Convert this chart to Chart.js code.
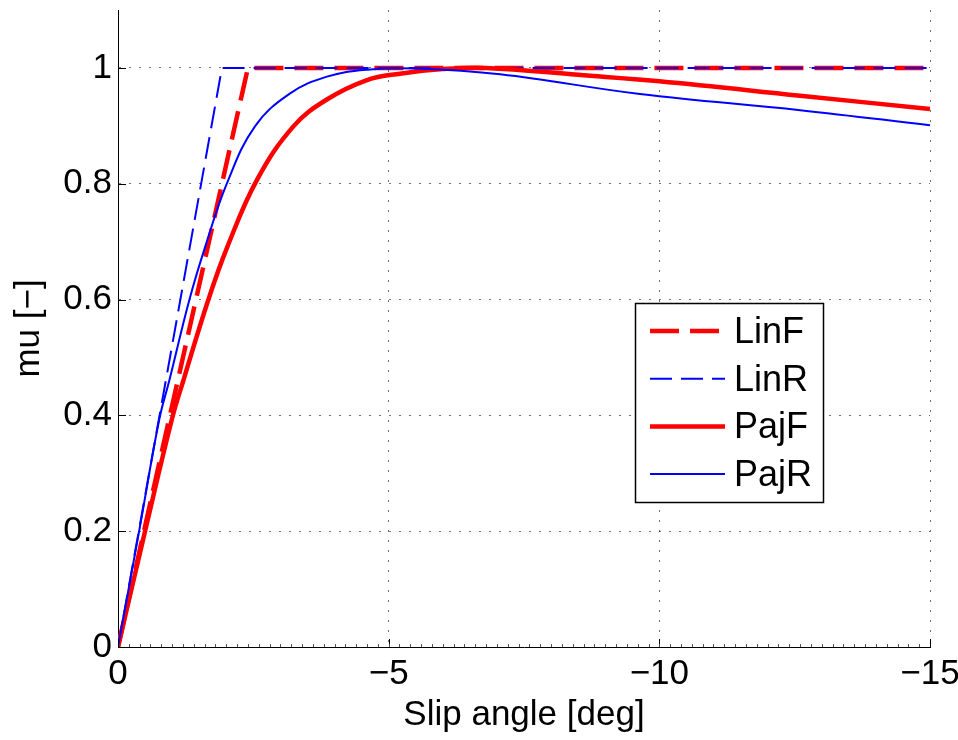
<!DOCTYPE html>
<html>
<head>
<meta charset="utf-8">
<script src="https://cdn.jsdelivr.net/npm/chart.js@4.4.0/dist/chart.umd.min.js"></script>
<style>
    html, body { margin: 0; padding: 0; background: #fff; }
    #wrap { width: 958px; height: 740px; }
</style>
</head>
<body>
<div id="wrap"><canvas id="muChart" width="958" height="740"></canvas></div>
<script>
// --- Data (slip angle in deg, mu in -) ---
const seriesNames = ['LinF', 'LinR', 'PajF', 'PajR'];

const linFX = [0, -2.4, -15];
const linFY = [0, 1, 1];

const linRX = [0, -1.92, -15];
const linRY = [0, 1, 1];

const pajFX = [0, -0.5, -1.0, -1.21, -1.67, -2.02, -2.57, -3.24, -3.85, -4.6, -5.21, -6.0, -6.8, -8.5, -10, -12.6, -15];
const pajFY = [0, 0.2, 0.395, 0.461, 0.6, 0.691, 0.807, 0.899, 0.945, 0.979, 0.99, 0.998, 1.0, 0.988, 0.977, 0.952, 0.929];

const pajRX = [0, -0.4, -0.76, -0.95, -1.32, -1.61, -2.01, -2.53, -3.18, -3.86, -4.6, -5.5, -7.06, -9.64, -12.6, -15];
const pajRY = [0, 0.205, 0.392, 0.461, 0.6, 0.691, 0.8, 0.899, 0.956, 0.985, 0.997, 0.999, 0.989, 0.955, 0.927, 0.901];

const xTicks = [0, -5, -10, -15];
const yTicks = [0, 0.2, 0.4, 0.6, 0.8, 1];

const FONT = '"Liberation Sans", Arial, Helvetica, sans-serif';
const RED = '#ff0000';
const BLUE = '#0000ff';

const toPoints = (xs, ys) => xs.map((x, i) => ({ x: x, y: ys[i] }));
const fmtX = (v) => v < 0 ? '\u2212' + Math.abs(v) : String(v);

// inward tick marks like the original plot
const inwardTicks = {
    id: 'inwardTicks',
    afterDatasetsDraw(chart) {
        const ctx = chart.ctx;
        const xs = chart.scales.x;
        const ys = chart.scales.y;
        const area = chart.chartArea;
        ctx.save();
        ctx.strokeStyle = '#000';
        ctx.lineWidth = 1;
        ctx.beginPath();
        xTicks.forEach(v => {
            const px = Math.round(xs.getPixelForValue(v)) + 0.5;
            ctx.moveTo(px, area.bottom);
            ctx.lineTo(px, area.bottom - 8);
        });
        yTicks.forEach(v => {
            const py = Math.round(ys.getPixelForValue(v)) + 0.5;
            ctx.moveTo(area.left, py);
            ctx.lineTo(area.left + 8, py);
        });
        ctx.stroke();
        // minor ticks on the x axis
        ctx.strokeStyle = '#555';
        ctx.beginPath();
        for (let k = 1; k < 75; k++) {
            const px = Math.round(xs.getPixelForValue(-k * 0.2)) + 0.5;
            ctx.moveTo(px, area.bottom);
            ctx.lineTo(px, area.bottom - 3);
        }
        ctx.stroke();
        ctx.restore();
    }
};

// boxed legend inside the plot
const boxLegend = {
    id: 'boxLegend',
    afterDraw(chart) {
        const ctx = chart.ctx;
        const area = chart.chartArea;
        const left = area.right - 295;
        const top = 303;
        const w = 188, h = 199;
        ctx.save();
        ctx.fillStyle = '#fff';
        ctx.fillRect(left, top, w, h);
        ctx.strokeStyle = '#000';
        ctx.lineWidth = 1.5;
        ctx.setLineDash([]);
        ctx.strokeRect(left + 0.5, top + 0.5, w, h);
        ctx.font = '36px ' + FONT;
        ctx.textBaseline = 'middle';
        ctx.textAlign = 'left';
        chart.data.datasets.forEach((ds, i) => {
            const y = top + 28 + i * 47.7;
            ctx.strokeStyle = ds.borderColor;
            ctx.lineWidth = ds.borderWidth;
            ctx.setLineDash(ds.borderDash || []);
            ctx.beginPath();
            ctx.moveTo(left + 15, y);
            ctx.lineTo(left + 90, y);
            ctx.stroke();
            ctx.setLineDash([]);
            ctx.fillStyle = '#000';
            ctx.fillText(ds.label, left + 99, y + 2);
        });
        ctx.restore();
    }
};

const makeChart = () => {
    const ctx = document.getElementById('muChart').getContext('2d');
    return new Chart(ctx, {
        type: 'line',
        data: {
            datasets: [
                { label: seriesNames[0], data: toPoints(linFX, linFY), borderColor: RED, borderWidth: 4.5, borderDash: [29, 11], tension: 0, order: 4 },
                { label: seriesNames[1], data: toPoints(linRX, linRY), borderColor: BLUE, borderWidth: 2, borderDash: [22, 9], tension: 0, order: 3 },
                { label: seriesNames[2], data: toPoints(pajFX, pajFY), borderColor: RED, borderWidth: 4.5, tension: 0.4, order: 2 },
                { label: seriesNames[3], data: toPoints(pajRX, pajRY), borderColor: BLUE, borderWidth: 2, tension: 0.4, order: 1 }
            ]
        },
        options: {
            responsive: false,
            animation: false,
            elements: { point: { radius: 0 }, line: { borderCapStyle: 'butt' } },
            layout: { padding: { left: 0, right: 28, top: 10, bottom: 0 } },
            plugins: {
                legend: { display: false },
                tooltip: { enabled: false }
            },
            scales: {
                x: {
                    type: 'linear',
                    min: -15,
                    max: 0,
                    reverse: true,
                    afterBuildTicks: (scale) => { scale.ticks = xTicks.map(v => ({ value: v })); },
                    afterFit: (scale) => {
                        scale.height = 93;
                        scale.paddingLeft = 0;
                        scale.paddingRight = 0;
                    },
                    ticks: {
                        callback: (v) => fmtX(v),
                        color: '#000',
                        font: { family: FONT, size: 35 },
                        padding: 6,
                        maxRotation: 0
                    },
                    grid: {
                        color: 'rgba(0,0,0,0.55)',
                        lineWidth: 1,
                        drawTicks: false
                    },
                    border: { display: true, color: '#000', width: 1, dash: [2, 8] },
                    title: {
                        display: true,
                        text: 'Slip angle [deg]',
                        color: '#000',
                        font: { family: FONT, size: 35 },
                        padding: { top: 0, bottom: 4 }
                    }
                },
                y: {
                    type: 'linear',
                    min: 0,
                    max: 1.1,
                    afterBuildTicks: (scale) => { scale.ticks = yTicks.map(v => ({ value: v })); },
                    afterFit: (scale) => {
                        scale.width = 118;
                        scale.paddingTop = 0;
                        scale.paddingBottom = 0;
                    },
                    ticks: {
                        callback: (v) => String(v),
                        color: '#000',
                        font: { family: FONT, size: 35 },
                        padding: 6
                    },
                    grid: {
                        color: 'rgba(0,0,0,0.55)',
                        lineWidth: 1,
                        drawTicks: false
                    },
                    border: { display: true, color: '#000', width: 1, dash: [2, 8] },
                    title: {
                        display: true,
                        text: 'mu [\u2212]',
                        color: '#000',
                        font: { family: FONT, size: 35 },
                        padding: { top: 8, bottom: 0 }
                    }
                }
            }
        },
        plugins: [inwardTicks, boxLegend]
    });
};

document.addEventListener('DOMContentLoaded', () => {
    makeChart();
});
</script>
</body>
</html>
